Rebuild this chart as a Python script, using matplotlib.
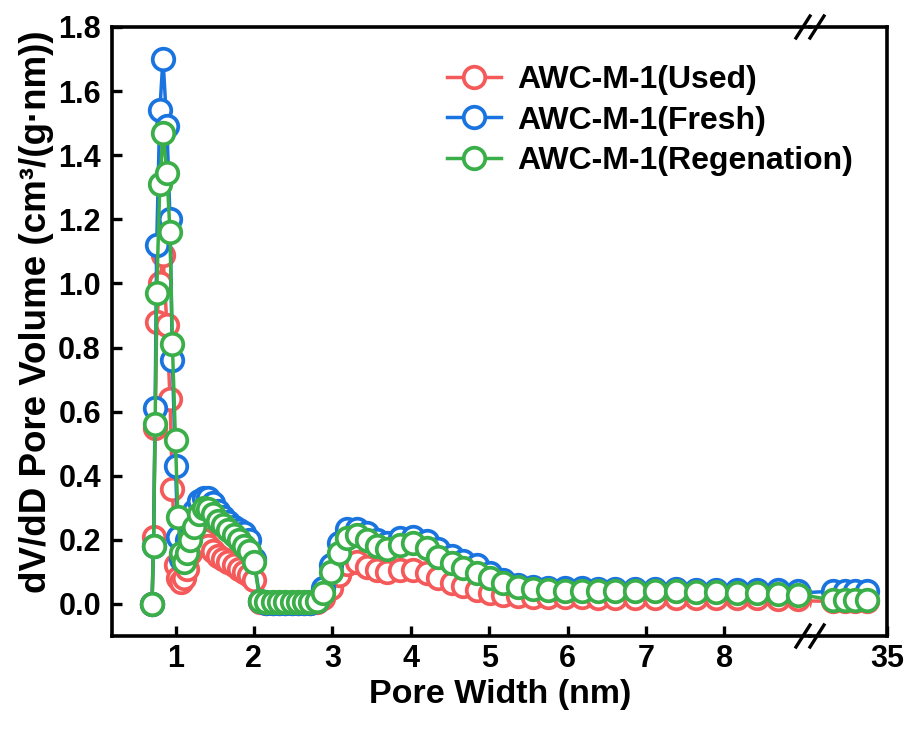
import matplotlib
matplotlib.use("Agg")
import matplotlib.pyplot as plt
from matplotlib.lines import Line2D

plt.rcParams['font.family'] = ['Liberation Sans', 'DejaVu Sans']
plt.rcParams['font.weight'] = 'bold'

# pore width (nm), shared by all three samples, left part of the broken axis
width_nm = [0.70, 0.72, 0.74, 0.76, 0.80, 0.84, 0.89, 0.93, 0.96, 1.00, 1.03,
            1.07, 1.11, 1.15, 1.19, 1.24, 1.30, 1.36, 1.42, 1.48, 1.54, 1.60,
            1.67, 1.74, 1.81, 1.88, 1.94, 2.00, 2.08, 2.16, 2.24, 2.32, 2.40,
            2.48, 2.56, 2.64, 2.72, 2.80, 2.88, 2.98, 3.08, 3.19, 3.31, 3.44,
            3.57, 3.70, 3.86, 4.03, 4.21, 4.35, 4.53, 4.67, 4.85, 5.01, 5.18,
            5.37, 5.56, 5.75, 5.97, 6.18, 6.39, 6.60, 6.86, 7.12, 7.38, 7.64,
            7.90, 8.16, 8.42, 8.68, 8.94]

used = [0.00, 0.21, 0.55, 0.88, 1.00, 1.09, 0.87, 0.64, 0.36, 0.12, 0.08,
        0.07, 0.08, 0.11, 0.16, 0.20, 0.21, 0.20, 0.18, 0.165, 0.15, 0.14,
        0.13, 0.12, 0.11, 0.10, 0.09, 0.075, 0.005, 0.002, 0.002, 0.002, 0.002,
        0.002, 0.002, 0.002, 0.002, 0.005, 0.02, 0.05, 0.09, 0.125, 0.13, 0.115,
        0.105, 0.10, 0.105, 0.105, 0.095, 0.08, 0.065, 0.055, 0.045, 0.035, 0.028,
        0.024, 0.022, 0.022, 0.021, 0.021, 0.020, 0.020, 0.020, 0.019, 0.019, 0.018,
        0.018, 0.017, 0.017, 0.016, 0.016]

fresh = [0.00, 0.18, 0.61, 1.12, 1.54, 1.70, 1.49, 1.20, 0.76, 0.43, 0.21,
         0.14, 0.15, 0.20, 0.25, 0.29, 0.32, 0.33, 0.33, 0.315, 0.29, 0.27,
         0.255, 0.24, 0.23, 0.22, 0.20, 0.14, 0.01, 0.003, 0.003, 0.003, 0.003,
         0.003, 0.003, 0.003, 0.003, 0.01, 0.05, 0.12, 0.19, 0.235, 0.235, 0.22,
         0.20, 0.19, 0.205, 0.21, 0.195, 0.17, 0.15, 0.135, 0.12, 0.095, 0.075,
         0.06, 0.052, 0.050, 0.050, 0.049, 0.048, 0.048, 0.047, 0.047, 0.046, 0.045,
         0.045, 0.044, 0.043, 0.042, 0.041]

regen = [0.00, 0.18, 0.56, 0.97, 1.31, 1.47, 1.345, 1.16, 0.81, 0.51, 0.27,
         0.16, 0.13, 0.16, 0.20, 0.24, 0.28, 0.30, 0.295, 0.28, 0.26, 0.245,
         0.23, 0.215, 0.20, 0.18, 0.165, 0.13, 0.01, 0.005, 0.005, 0.005, 0.005,
         0.005, 0.005, 0.005, 0.005, 0.008, 0.035, 0.10, 0.16, 0.205, 0.215, 0.20,
         0.18, 0.17, 0.185, 0.19, 0.175, 0.147, 0.128, 0.112, 0.097, 0.08, 0.066,
         0.054, 0.046, 0.042, 0.040, 0.040, 0.040, 0.040, 0.040, 0.040, 0.039, 0.038,
         0.036, 0.035, 0.033, 0.030, 0.028]

# right part of the broken axis (near 35 nm)
width_far = [27.0, 30.1, 31.2, 32.1, 33.2]
used_far = [0.010, 0.008, 0.008, 0.008, 0.008]
fresh_far = [0.034, 0.040, 0.040, 0.040, 0.040]
regen_far = [0.030, 0.012, 0.012, 0.012, 0.012]

labels = ['AWC-M-1(Used)', 'AWC-M-1(Fresh)', 'AWC-M-1(Regenation)']
colors = ['#f55a5a', '#1a74e0', '#3aae48']

fig = plt.figure(figsize=(9.09, 7.31), dpi=100)
x0, x_brk, x1 = 112 / 909, 810 / 909, 887 / 909
y0, y1 = 1 - 636 / 731, 1 - 27 / 731
ax1 = fig.add_axes([x0, y0, x_brk - x0, y1 - y0])
ax2 = fig.add_axes([x_brk, y0, x1 - x_brk, y1 - y0], sharey=ax1)
ax2.patch.set_visible(False)

style = dict(marker='o', ms=15.5, mew=2.7, mfc='white', lw=2.5)
for ys, yf, c, lab in zip([used, fresh, regen], [used_far, fresh_far, regen_far],
                          colors, labels):
    ax1.plot(width_nm, ys, color=c, label=lab, **style)
    ax2.plot(width_far, yf, color=c, **style)

ax1.set_xlim(0.19, 9.093)
ax2.set_xlim(28, 35)
ax1.set_ylim(-0.1, 1.8)
ax1.set_xticks(range(1, 9))
ax1.set_yticks([0.0, 0.2, 0.4, 0.6, 0.8, 1.0, 1.2, 1.4, 1.6, 1.8])
ax1.set_yticklabels(['%.1f' % v for v in ax1.get_yticks()])
ax2.set_xticks([35])

for ax in (ax1, ax2):
    for s in ax.spines.values():
        s.set_linewidth(2.6)
    ax.tick_params(direction='in', length=7, width=2.4, labelsize=22, pad=8)
    ax.tick_params(axis='x', pad=6)
ax1.spines['right'].set_visible(False)
ax2.spines['left'].set_visible(False)
ax1.tick_params(top=False, right=False)
ax2.tick_params(left=False, right=False, labelleft=False, top=False)
for t in ax1.get_xticklabels() + ax1.get_yticklabels() + ax2.get_xticklabels():
    t.set_fontweight('bold')

fig.text(500 / 909, 1 - 694 / 731, 'Pore Width (nm)', fontsize=24.5,
         fontweight='bold', ha='center', va='center')
fig.text(37 / 909, 1 - 312 / 731, 'dV/dD Pore Volume (cm³/(g·nm))', fontsize=26.5,
         fontweight='bold', rotation=90, ha='center', va='center')

leg = fig.legend(loc='upper left', bbox_to_anchor=(447 / 909, 1 - 65 / 731),
                 frameon=False, fontsize=23, handlelength=1.7, handletextpad=0.5,
                 labelspacing=0.33, borderaxespad=0, borderpad=0)
for t in leg.get_texts():
    t.set_fontweight('bold')

# axis break marks
for xc in (803 / 909, 817 / 909):
    for yc in (y0, y1):
        fig.add_artist(Line2D([xc - 7 / 909, xc + 7 / 909],
                              [yc - 11 / 731, yc + 11 / 731],
                              color='black', lw=2.4))

fig.savefig('out.png', dpi=100)
